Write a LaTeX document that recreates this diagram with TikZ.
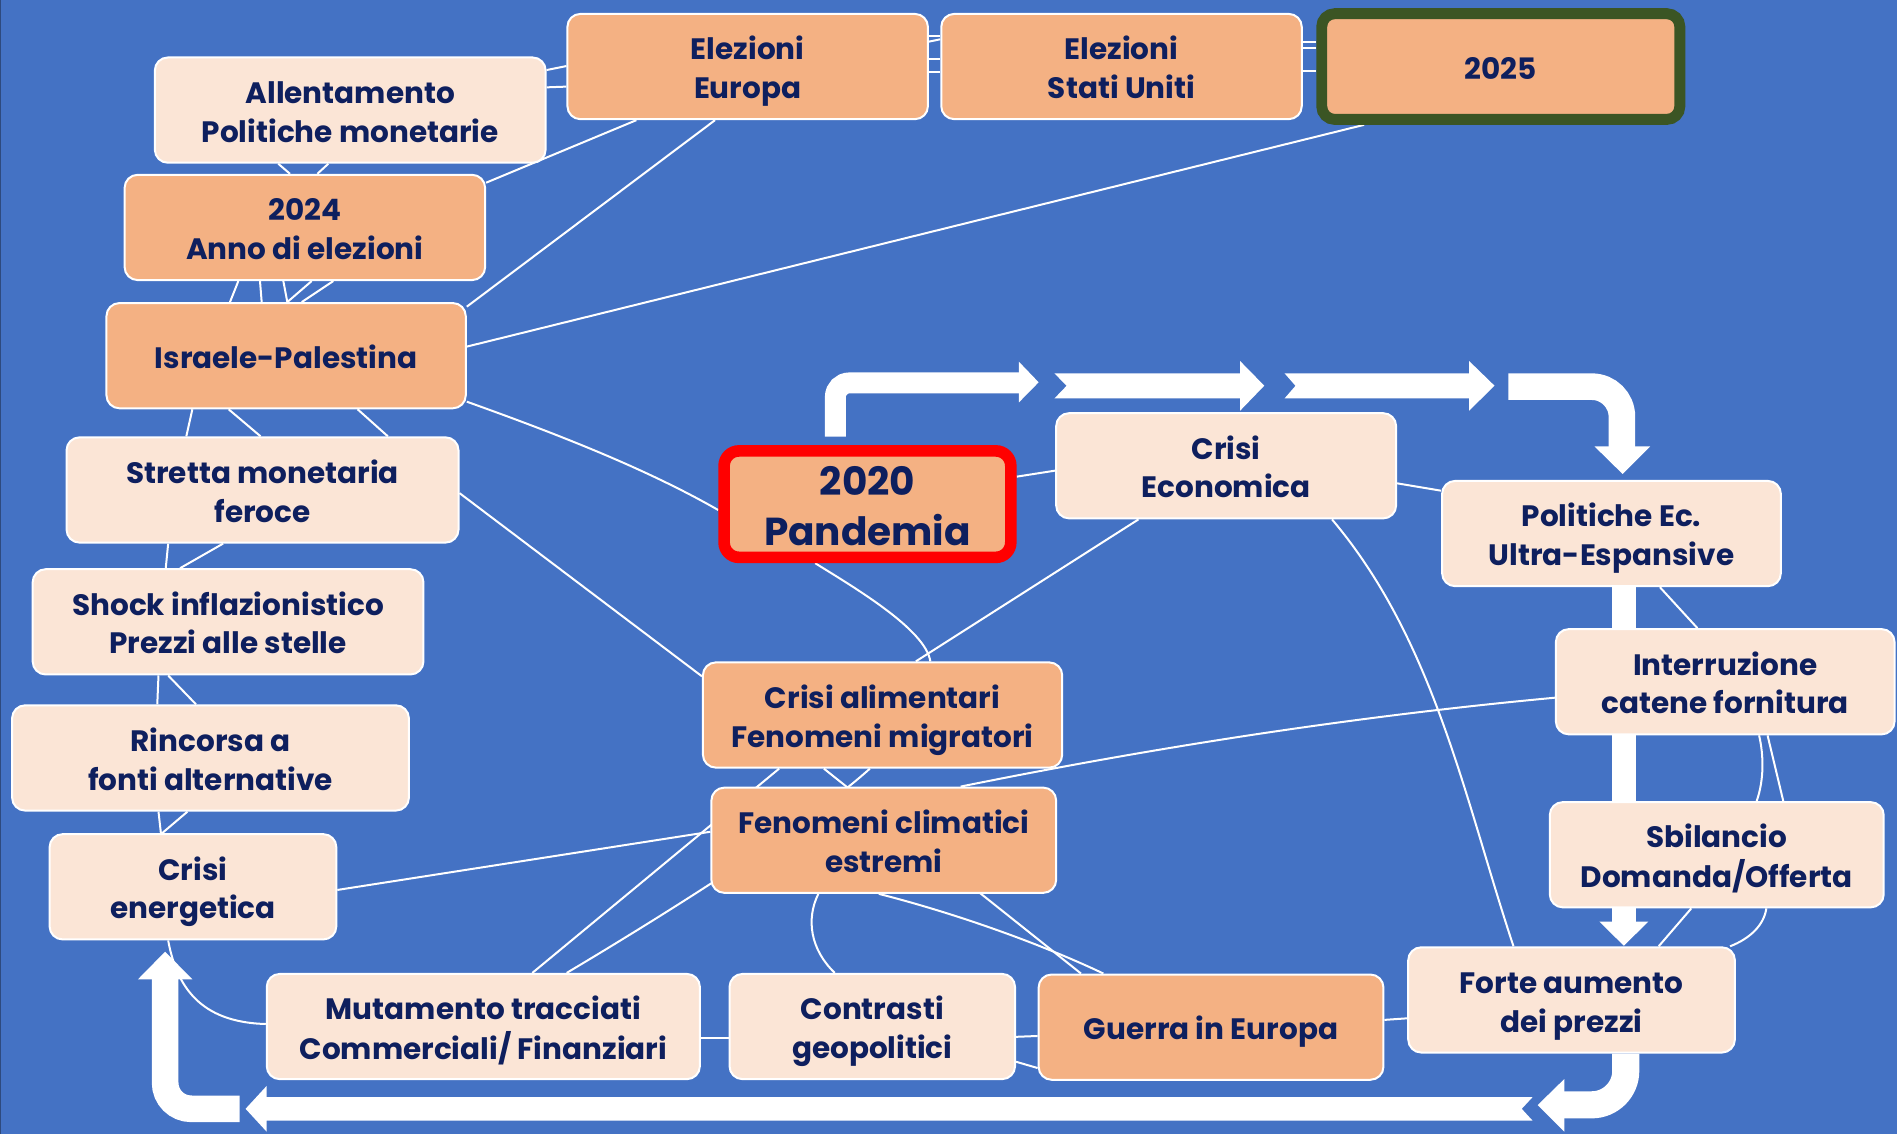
\documentclass[tikz,border=0pt]{standalone}
\usepackage{fontspec}
\setmainfont{Poppins}
\newlength\un
\setlength\un{1.2098pt}
\definecolor{bg}{HTML}{4472C4}
\definecolor{edgeline}{HTML}{2E4A7E}
\definecolor{lightfill}{HTML}{FBE5D6}
\definecolor{darkfill}{HTML}{F4B183}
\definecolor{navy}{HTML}{0E1F5E}
\definecolor{greenborder}{HTML}{3B5524}
\definecolor{redborder}{HTML}{FF0000}
\newcommand\ntext[2][5pt]{\raisebox{-#1}[\height][\depth]{\begin{tabular}{@{}c@{}}#2\end{tabular}}}
\pgfdeclarelayer{back}
\pgfsetlayers{back,main}
\begin{document}
\begin{tikzpicture}[x=1.2098pt,y=-1.2098pt,
  box/.style={draw=white, line width=2pt, rounded corners=13pt, text=navy,
    font=\bfseries\fontsize{29.5}{38.7}\selectfont, inner sep=0pt, minimum height=87\un},
  lightbox/.style={box, fill=lightfill},
  darkbox/.style={box, fill=darkfill},
  cn/.style={draw=white, line width=2pt},
  flowbar/.style={draw=white, line cap=butt},
  flowhead/.style={fill=white}]
\useasboundingbox (0,0) rectangle (1568,937);

% ---------- nodes ----------
\node[darkbox, minimum width=298\un] (eu) at (618,55) {\ntext{Elezioni\\Europa}};
\node[darkbox, minimum width=298\un] (us) at (927,55) {\ntext{Elezioni\\Stati Uniti}};
\node[darkbox, draw=greenborder, line width=9\un, rounded corners=13pt, minimum width=296\un, minimum height=87.4\un] (y25) at (1240.5,55) {\ntext{2025}};
\node[lightbox, minimum width=323\un] (all) at (289.5,91) {\ntext{Allentamento\\Politiche monetarie}};
\node[darkbox, minimum width=298\un] (y24) at (252,188) {\ntext{2024\\Anno di elezioni}};
\node[darkbox, minimum width=297\un] (isr) at (236.5,294) {\ntext{Israele-Palestina}};
\node[lightbox, minimum width=324\un] (str) at (217,405) {\ntext{Stretta monetaria\\feroce}};
\node[lightbox, minimum width=323\un] (sho) at (188.5,514) {\ntext{Shock inflazionistico\\Prezzi alle stelle}};
\node[lightbox, minimum width=328\un] (rin) at (174,626.5) {\ntext{Rincorsa a\\fonti alternative}};
\node[lightbox, minimum width=237\un] (ene) at (159.5,733) {\ntext{Crisi\\energetica}};
\node[lightbox, minimum width=358\un] (mut) at (399.5,848.5) {\ntext{Mutamento tracciati\\Commerciali/ Finanziari}};
\node[lightbox, minimum width=236\un] (con) at (721,848.5) {\ntext{Contrasti\\geopolitici}};
\node[darkbox, minimum width=285\un] (gue) at (1001,849) {\ntext{Guerra in Europa}};
\node[lightbox, minimum width=270\un] (for) at (1299,826.5) {\ntext{Forte aumento\\dei prezzi}};
\node[lightbox, minimum width=276\un] (sbi) at (1419,706.5) {\ntext{Sbilancio\\Domanda/Offerta}};
\node[lightbox, minimum width=280\un] (int) at (1426,563.5) {\ntext{Interruzione\\catene fornitura}};
\node[lightbox, minimum width=280\un] (pol) at (1332,441) {\ntext{Politiche Ec.\\Ultra-Espansive}};
\node[lightbox, minimum width=281\un] (cec) at (1013.5,385) {\ntext{Crisi\\Economica}};
\node[darkbox, draw=redborder, line width=9.6\un, rounded corners=15pt, minimum width=237\un, minimum height=88\un,
  font=\bfseries\fontsize{39}{49.6}\selectfont] (pan) at (717,416.7) {\ntext[6.5pt]{2020\\Pandemia}};
\node[darkbox, minimum width=297\un] (cal) at (729.5,591) {\ntext{Crisi alimentari\\Fenomeni migratori}};
\node[darkbox, minimum width=285\un] (fcl) at (730.5,694.5) {\ntext{Fenomeni climatici\\estremi}};

\begin{pgfonlayer}{back}
\fill[bg] (0,0) rectangle (1568,937);
\draw[edgeline, line width=1pt] (0.4,0) -- (0.4,937);

% ---------- thin connectors ----------
\draw[cn] (all.east |- 0,57.9) -- (eu.west |- 0,54.6);
\draw[cn] (all.east |- 0,72.2) -- (eu.west |- 0,71.6);
\draw[cn] (eu.east |- 0,29.8) -- (us.west |- 0,29.8);
\draw[cn] (eu.east |- 0,34.4) -- (us.west |- 0,32.5);
\draw[cn] (eu.east |- 0,49) -- (us.west |- 0,49);
\draw[cn] (eu.east |- 0,59.8) -- (us.west |- 0,59.8);
\draw[cn] (us.east |- 0,34.4) -- (y25.west |- 0,34.4);
\draw[cn] (us.east |- 0,40) -- (y25.west |- 0,40);
\draw[cn] (us.east |- 0,58.7) -- (y25.west |- 0,58.7);
\draw[cn] (all.south -| 230,0) -- (y24.north -| 239.7,0);
\draw[cn] (all.south -| 271.4,0) -- (y24.north -| 262.3,0);
\draw[cn] (y24.south -| 197,0) -- (isr.north -| 190.1,0);
\draw[cn] (y24.south -| 214.9,0) -- (isr.north -| 216.3,0);
\draw[cn] (y24.south -| 234.2,0) -- (isr.north -| 237.5,0);
\draw[cn] (y24.south -| 257.6,0) -- (isr.north -| 237.5,0);
\draw[cn] (y24.south -| 275.5,0) -- (isr.north -| 249.4,0);
\draw[cn] (y24.east |- 0,151) -- (eu.south -| 526,0);
\draw[cn] (isr.east |- 0,253.5) -- (eu.south -| 591,0);
\draw[cn] (isr.east |- 0,286.5) -- (y25.south -| 1127.5,0);
\draw[cn] (isr.south -| 159,0) -- (str.north -| 154,0);
\draw[cn] (isr.south -| 189,0) -- (str.north -| 215.4,0);
\draw[cn] (isr.south -| 295.6,0) -- (str.north -| 320.6,0);
\draw[cn] (str.south -| 139,0) -- (sho.north -| 137,0);
\draw[cn] (str.south -| 184.4,0) -- (sho.north -| 148.8,0);
\draw[cn] (sho.south -| 131,0) -- (rin.north -| 130,0);
\draw[cn] (sho.south -| 139,0) -- (rin.north -| 162,0);
\draw[cn] (rin.south -| 131,0) -- (ene.north -| 133,0);
\draw[cn] (rin.south -| 155,0) -- (ene.north -| 134,0);
\draw[cn] (isr.east |- 0,332) .. controls (450,355) and (530,385) .. (pan.west |- 0,421.6);
\draw[cn] (str.east |- 0,407.6) -- (cal.west |- 0,559);
\draw[cn] (pan.south -| 673.8,0) .. controls (705,485) and (765,520) .. (cal.north -| 769,0);
\draw[cn] (cec.south -| 941,0) -- (cal.north -| 757,0);
\draw[cn] (pan.east |- 0,394) -- (cec.west |- 0,389);
\draw[cn] (cec.east |- 0,399.5) -- (pol.west |- 0,405.6);
\draw[cn] (cec.south -| 1101,0) .. controls (1186,530) and (1211,662) .. (for.north -| 1251,0);
\draw[cn] (pol.south -| 1372,0) -- (int.north -| 1403,0);
\draw[cn] (int.south -| 1461,0) -- (sbi.north -| 1474,0);
\draw[cn] (int.south -| 1454,0) .. controls (1458,625) and (1458,645) .. (sbi.north -| 1452,0);
\draw[cn] (sbi.south -| 1398,0) -- (for.north -| 1371,0);
\draw[cn] (sbi.south -| 1460,0) .. controls (1458,765) and (1446,776) .. (for.north -| 1430,0);
\draw[cn] (int.west |- 0,576.7) .. controls (1121,592) and (958,617) .. (fcl.north -| 794,0);
\draw[cn] (cal.south -| 644,0) -- (mut.north -| 440,0);
\draw[cn] (cal.south -| 681,0) -- (gue.north -| 893.5,0);
\draw[cn] (cal.south -| 719,0) .. controls (664.5,684.5) and (536,764) .. (mut.north -| 468.4,0);
\draw[cn] (fcl.west |- 0,687.5) -- (ene.east |- 0,735.6);
\draw[cn] (fcl.south -| 676.4,0) .. controls (666,760) and (670,785) .. (con.north -| 690,0);
\draw[cn] (fcl.south -| 726.4,0) .. controls (790,755) and (860,780) .. (gue.north -| 912,0);
\draw[cn] (mut.west |- 0,846.4) .. controls (165,845) and (146,815) .. (ene.south -| 139,0);
\draw[cn] (mut.east |- 0,858) -- (con.west |- 0,858);
\draw[cn] (con.east |- 0,857) -- (gue.west |- 0,856.3);
\draw[cn] (con.east |- 0,877.6) -- (gue.west |- 0,882.8);
\draw[cn] (gue.east |- 0,843) -- (for.west |- 0,841.7);

% ---------- thick flow arrows ----------
\draw[flowbar, line width=17.3\un, rounded corners=14pt] (690.5,361) -- (690.5,316.5) -- (842.5,316.5);
\fill[flowhead] (842.2,299) -- (858.5,316) -- (842.2,332.6) -- cycle;
\fill[flowhead] (871.6,308.6) -- (1025,308.6) -- (1025,298.4) -- (1045,318.8) -- (1025,339.5) -- (1025,329.3) -- (871.6,329.3) -- (881.6,318.9) -- cycle;
\fill[flowhead] (1061.8,308.6) -- (1214.3,308.6) -- (1214.3,298.4) -- (1235.3,318.8) -- (1214.3,339.5) -- (1214.3,329.3) -- (1061.8,329.3) -- (1070.8,318.9) -- cycle;
\draw[flowbar, line width=22\un, rounded corners=30pt] (1246.8,319.6) -- (1340.6,319.6) -- (1340.6,370);
\fill[flowhead] (1318,369) -- (1364,369) -- (1341.2,391.8) -- cycle;
\draw[flowbar, line width=19.8\un] (pol.south -| 1342.4,0) -- (1342.4,763);
\fill[flowhead] (1322,761.8) -- (1362.4,761.8) -- (1342.2,781.7) -- cycle;
\draw[flowbar, line width=22.4\un, rounded corners=34pt] (for.south -| 1343.8,0) -- (1343.8,913.2) -- (1292,913.2);
\fill[flowhead] (1293,891.9) -- (1271,913.4) -- (1293,935.4) -- cycle;
\fill[flowhead] (1266.8,906.8) -- (220.4,906.8) -- (220.4,897.6) -- (203,916.5) -- (220.4,935.4) -- (220.4,926.3) -- (1266.8,926.3) -- (1257.8,916.5) -- cycle;
\draw[flowbar, line width=22\un, rounded corners=26pt] (198,916.5) -- (136.5,916.5) -- (136.5,808);
\fill[flowhead] (114,809.5) -- (159,809.5) -- (136.5,786.6) -- cycle;
\end{pgfonlayer}
\end{tikzpicture}
\end{document}
